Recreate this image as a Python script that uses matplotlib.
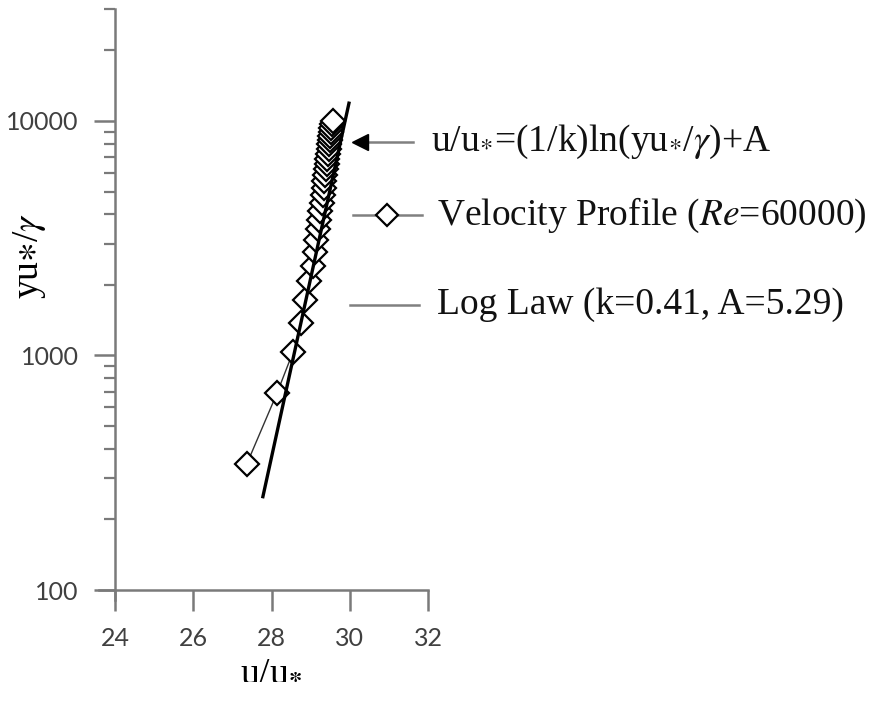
import matplotlib
matplotlib.use("Agg")
import matplotlib.pyplot as plt
from matplotlib.lines import Line2D
from matplotlib.ticker import LogLocator, FixedLocator, NullFormatter, FixedFormatter

plt.rcParams["mathtext.fontset"] = "stix"

# Velocity profile (Re = 60000): wall distance yu*/nu and velocity u/u*
profile_y = [345, 690, 1035, 1380, 1725, 2070, 2415, 2760, 3105, 3450,
             3795, 4140, 4485, 4830, 5175, 5520, 5865, 6210, 6555, 6900,
             7245, 7590, 7935, 8280, 8625, 8970, 9315, 9660, 10005]
profile_u = [27.37, 28.14, 28.55, 28.76, 28.85, 28.97, 29.05, 29.11, 29.15, 29.19,
             29.22, 29.25, 29.28, 29.31, 29.33, 29.35, 29.37, 29.39, 29.41, 29.43,
             29.44, 29.46, 29.47, 29.49, 29.50, 29.52, 29.53, 29.54, 29.56]

# Log-law reference line (end points)
loglaw_y = [250, 11900]
loglaw_u = [27.78, 29.98]

x_ticks = [24, 26, 28, 30, 32]
y_ticks = [100, 1000, 10000]
y_tick_labels = ["100", "1000", "10000"]

legend_labels = [
    r"u/u$_{*}$=(1/k)ln(yu$_{*}$/$\gamma$)+A",
    r"Velocity Profile ($\mathit{Re}$=60000)",
    "Log Law (k=0.41, A=5.29)",
]

W, H = 873, 702
fig = plt.figure(figsize=(W / 100, H / 100), dpi=100)
ax = fig.add_axes([115 / W, 1 - 590 / H, (428 - 115) / W, (590 - 9) / H])

ax.set_yscale("log")
ax.set_xlim(24, 32)
ax.set_ylim(100, 30000)

spine_col = "#7a7a7a"
ax.plot(profile_u, profile_y, color="#333333", lw=1.0, marker="D", ms=12,
        mfc="white", mec="black", mew=1.6, zorder=3)
ax.plot(loglaw_u, loglaw_y, color="black", lw=2.4, zorder=4)

for s in ("top", "right"):
    ax.spines[s].set_visible(False)
for s in ("left", "bottom"):
    ax.spines[s].set_color(spine_col)
    ax.spines[s].set_linewidth(1.8)
ax.spines["left"].set_bounds(90.5, 30000)
ax.spines["bottom"].set_bounds(23.6, 32)

ax.xaxis.set_major_locator(FixedLocator(x_ticks))
ax.yaxis.set_major_locator(FixedLocator(y_ticks))
ax.yaxis.set_major_formatter(FixedFormatter(y_tick_labels))
ax.yaxis.set_minor_locator(LogLocator(base=10, subs=range(2, 10), numticks=20))
ax.yaxis.set_minor_formatter(NullFormatter())

ax.tick_params(axis="both", which="major", direction="out", length=15, width=1.8,
               color=spine_col, labelcolor="#404040", labelsize=18)
ax.tick_params(axis="y", which="minor", direction="out", length=8, width=1.6,
               color=spine_col)
ax.tick_params(axis="x", which="major", pad=12)
ax.tick_params(axis="y", which="major", pad=11)
for lab in ax.get_xticklabels() + ax.get_yticklabels():
    lab.set_fontfamily("Lato")

serif = "Liberation Serif"
ax.set_xlabel(r"u/u$_{\mathbf{*}}$", family=serif, fontsize=27)
ax.xaxis.set_label_coords(0.5, -0.108)
ax.set_ylabel(r"yu$\ast$/$\gamma$", family=serif, fontsize=27)
ax.yaxis.set_label_coords(-0.215, 0.575)

# Key drawn beside the plot
def fx(px):
    return px / W

def fy(py):
    return 1 - py / H

grey = "#808080"
fig.add_artist(Line2D([fx(362), fx(413)], [fy(142), fy(142)], color=grey, lw=1.8,
                      transform=fig.transFigure))
fig.add_artist(Line2D([fx(360)], [fy(142)], marker="<", ms=12, color="black",
                      transform=fig.transFigure))
fig.add_artist(Line2D([fx(353), fx(422)], [fy(215), fy(215)], color=grey, lw=1.8,
                      transform=fig.transFigure))
fig.add_artist(Line2D([fx(387)], [fy(215)], marker="D", ms=11, mfc="white",
                      mec="black", mew=1.6, transform=fig.transFigure))
fig.add_artist(Line2D([fx(350), fx(419)], [fy(305), fy(305)], color=grey, lw=1.8,
                      transform=fig.transFigure))

fig.text(fx(431), fy(142), legend_labels[0], family=serif, fontsize=27,
         va="center", ha="left", color="#111111")
fig.text(fx(437), fy(215), legend_labels[1], family=serif, fontsize=27,
         va="center", ha="left", color="#111111")
fig.text(fx(437), fy(305), legend_labels[2], family=serif, fontsize=27,
         va="center", ha="left", color="#111111")

fig.savefig("out.png", dpi=100, facecolor="white")
